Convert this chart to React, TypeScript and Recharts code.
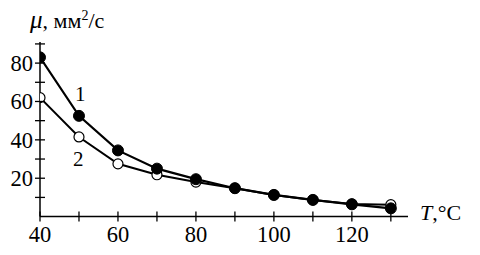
import React from 'react';
import { LineChart, Line, XAxis, YAxis, ReferenceDot } from 'recharts';

const temps = [40, 50, 60, 70, 80, 90, 100, 110, 120, 130];
const series1 = [83, 52.5, 34.5, 25, 19.5, 14.8, 11.3, 8.7, 6.4, 4.3];
const series2 = [62, 41.5, 27.5, 21.8, 18, 14.8, 11.3, 8.7, 6.6, 6.2];
const xTicks = [40, 50, 60, 70, 80, 90, 100, 110, 120, 130];
const yTicks = [10, 20, 30, 40, 50, 60, 70, 80, 90];
const xLabels = [40, 60, 80, 100, 120];
const yLabels = [20, 40, 60, 80];

const data = temps.map((t, i) => ({ t, s1: series1[i], s2: series2[i] }));

const FONT = '"Liberation Serif", "DejaVu Serif", serif';

const XTick = (props: any) => {
  const { x, y, payload } = props;
  const v = payload.value;
  return (
    <g>
      <line x1={x} x2={x} y1={y - 5} y2={y + 5} stroke="#000" strokeWidth={1.3} />
      {xLabels.includes(v) && (
        <text x={x} y={y + 25.5} textAnchor="middle" fontFamily={FONT} fontSize={22.5} fill="#000">
          {v}
        </text>
      )}
    </g>
  );
};

const YTick = (props: any) => {
  const { x, y, payload } = props;
  const v = payload.value;
  return (
    <g>
      <line x1={x - 5} x2={x + 5} y1={y} y2={y} stroke="#000" strokeWidth={1.3} />
      {yLabels.includes(v) && (
        <text x={x - 7} y={y + 8} textAnchor="end" fontFamily={FONT} fontSize={22.5} fill="#000">
          {v}
        </text>
      )}
    </g>
  );
};

const FilledDot = (props: any) => {
  const { cx, cy } = props;
  return <circle cx={cx} cy={cy} r={5.5} fill="#000" stroke="#000" />;
};
const OpenDot = (props: any) => {
  const { cx, cy } = props;
  return <circle cx={cx} cy={cy} r={5} fill="#fff" stroke="#000" strokeWidth={1.2} />;
};

export default function App() {
  return (
    <div style={{ position: 'absolute', left: 0, top: 0, width: 480, height: 255, background: '#fff' }}>
      <LineChart width={480} height={255} data={data} margin={{ top: 42, right: 72, bottom: 0, left: 0 }}>
        <XAxis
          dataKey="t"
          type="number"
          domain={[40, 134.4]}
          ticks={xTicks}
          tick={<XTick />}
          tickLine={false}
          tickSize={0}
          tickMargin={0}
          height={38.4}
          axisLine={{ stroke: '#000', strokeWidth: 1.5 }}
          interval={0}
          allowDataOverflow
        />
        <YAxis
          type="number"
          domain={[0, 91]}
          ticks={yTicks}
          tick={<YTick />}
          tickLine={false}
          tickSize={0}
          tickMargin={0}
          width={40}
          axisLine={{ stroke: '#000', strokeWidth: 1.5 }}
          interval={0}
          allowDataOverflow
        />
        <Line dataKey="s2" stroke="#000" strokeWidth={2} dot={<OpenDot />} isAnimationActive={false} />
        <Line dataKey="s1" stroke="#000" strokeWidth={2.2} dot={<FilledDot />} isAnimationActive={false} />
        <ReferenceDot
          x={50.3}
          y={64}
          r={0}
          fill="none"
          stroke="none"
          label={{ value: '1', position: 'center', fontFamily: FONT, fontSize: 21, fill: '#000' }}
        />
        <ReferenceDot
          x={49.8}
          y={30}
          r={0}
          fill="none"
          stroke="none"
          label={{ value: '2', position: 'center', fontFamily: FONT, fontSize: 21, fill: '#000' }}
        />
      </LineChart>
      <div style={{ position: 'absolute', left: 30, top: 6, fontFamily: FONT, fontSize: 22, color: '#000', whiteSpace: 'nowrap', lineHeight: '28px' }}>
        <i style={{ fontSize: 25 }}>μ</i>, мм<sup style={{ fontSize: 14, verticalAlign: 'top', position: 'relative', top: -4 }}>2</sup>/с
      </div>
      <div style={{ position: 'absolute', left: 420, top: 200, fontFamily: FONT, fontSize: 22, color: '#000', whiteSpace: 'nowrap', lineHeight: '26px' }}>
        <i>T</i>,°C
      </div>
    </div>
  );
}
